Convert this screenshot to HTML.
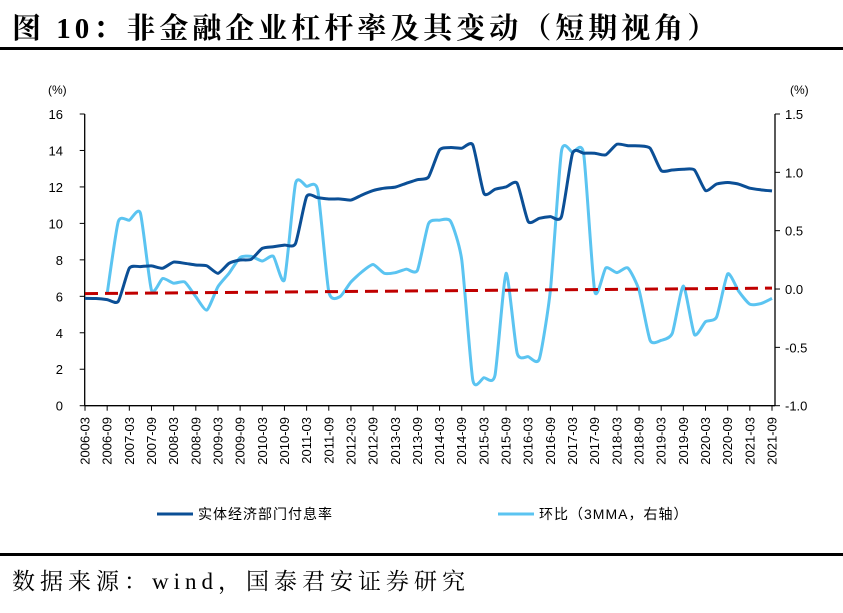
<!DOCTYPE html>
<html><head><meta charset="utf-8"><style>
body{margin:0;background:#fff;}
svg text{font-family:"Liberation Sans","Noto Sans CJK SC",sans-serif;}
</style></head><body>
<svg id="chart" width="843" height="608" xmlns="http://www.w3.org/2000/svg">
<text x="12" y="38" font-size="29" font-weight="bold" letter-spacing="4" style="font-family:'Liberation Serif','Noto Serif CJK SC',serif">图 10：非金融企业杠杆率及其变动（短期视角）</text>
<rect x="0" y="47" width="843" height="3" fill="#000"/>
<rect x="0" y="553" width="843" height="3" fill="#000"/>
<text x="12" y="589" font-size="23" letter-spacing="5" style="font-family:'Liberation Serif','Noto Serif CJK SC',serif">数据来源：wind，国泰君安证券研究</text>
<text x="48" y="94" font-size="12">(%)</text>
<text x="790" y="94" font-size="12">(%)</text>
<g id="axes"></g>
<g id="series"></g>
<g>
<line x1="157" y1="514" x2="193" y2="514" stroke="#0b4f96" stroke-width="3"/>
<text x="198" y="519" font-size="14" letter-spacing="1">实体经济部门付息率</text>
<line x1="498" y1="514" x2="534" y2="514" stroke="#5bc4f1" stroke-width="3"/>
<text x="539" y="519" font-size="14" letter-spacing="1">环比（3MMA，右轴）</text>
</g>
</svg>
<script>
const rateValues=[5.89,5.88,5.82,5.72,7.54,7.63,7.67,7.54,7.88,7.81,7.72,7.67,7.26,7.81,7.99,8.03,8.63,8.72,8.81,8.9,11.47,11.41,11.34,11.34,11.28,11.56,11.8,11.93,11.99,12.2,12.4,12.54,14.03,14.16,14.12,14.3,11.65,11.87,12.0,12.2,10.1,10.28,10.37,10.37,13.85,13.85,13.85,13.76,14.34,14.26,14.25,14.12,12.9,12.93,12.97,12.93,11.8,12.16,12.24,12.15,11.93,11.84,11.78];
const changeValues=[null,null,-0.04,0.577,0.59,0.65,-0.01,0.09,0.05,0.06,-0.066,-0.18,0.02,0.135,0.27,0.28,0.24,0.28,0.08,0.905,0.88,0.85,-0.023,-0.066,0.06,0.148,0.21,0.135,0.14,0.17,0.16,0.56,0.59,0.58,0.25,-0.78,-0.76,-0.74,0.135,-0.55,-0.58,-0.6,-0.01,1.18,1.17,1.16,-0.02,0.18,0.14,0.18,-0.01,-0.44,-0.44,-0.38,0.026,-0.39,-0.28,-0.24,0.13,-0.02,-0.13,-0.125,-0.08];
const trendValues=[6.15,6.45];
const leftTicks=[0,2,4,6,8,10,12,14,16];
const rightTicks=["1.5","1.0","0.5","0.0","-0.5","-1.0"];
const rightTickValues=[1.5,1,0.5,0,-0.5,-1];
const quarterLabels=[];
for(let y=2006;y<=2021;y++){quarterLabels.push(y+'-03');quarterLabels.push(y+'-09');}

const NS='http://www.w3.org/2000/svg';
const X0=85,X1=772,YT=114,YB=405.7;
const n=rateValues.length;
const xs=i=>X0+(X1-X0)*i/(n-1);
const yL=v=>YB-(v-0)/(16-0)*(YB-YT);
const yR=v=>YB-(v+1)/(2.5)*(YB-YT);
function mk(tag,attrs,parent){const e=document.createElementNS(NS,tag);for(const k in attrs)e.setAttribute(k,attrs[k]);parent.appendChild(e);return e;}
const ax=document.getElementById('axes'),se=document.getElementById('series');

let e=mk('line',{x1:84.7,y1:YT,x2:84.7,y2:YB,stroke:'#000','stroke-width':1.3},ax);


e=mk('line',{x1:775,y1:YT,x2:775,y2:YB,stroke:'#000','stroke-width':1.3},ax);


e=mk('line',{x1:84.7,y1:YB,x2:775,y2:YB,stroke:'#000','stroke-width':1.3},ax);



leftTicks.forEach(v=>{
  mk('line',{x1:79.7,y1:yL(v),x2:84.7,y2:yL(v),stroke:'#000'},ax);
  const t=mk('text',{x:63,y:yL(v)+5,'font-size':13,'text-anchor':'end'},ax);
  t.textContent=v;
  
  
});
rightTickValues.forEach((v,k)=>{
  mk('line',{x1:775,y1:yR(v),x2:780,y2:yR(v),stroke:'#000'},ax);
  const t=mk('text',{x:785,y:yR(v)+5,'font-size':13},ax);
  t.textContent=rightTicks[k];
  
  
});
quarterLabels.forEach((lab,k)=>{
  const x=xs(k*2);
  mk('line',{x1:x,y1:YB,x2:x,y2:YB+5,stroke:'#000'},ax);
  const t=mk('text',{x:0,y:0,'font-size':13,'text-anchor':'end',transform:`translate(${x+4.5},417) rotate(-90)`},ax);
  t.textContent=lab;
  
  
});

function smooth(pts){
  let d=`M${pts[0][0]},${pts[0][1]}`;
  for(let i=0;i<pts.length-1;i++){
    const p0=pts[Math.max(0,i-1)],p1=pts[i],p2=pts[i+1],p3=pts[Math.min(pts.length-1,i+2)];
    const t=0.1;
    d+=` C${p1[0]+(p2[0]-p0[0])*t},${p1[1]+(p2[1]-p0[1])*t} ${p2[0]-(p3[0]-p1[0])*t},${p2[1]-(p3[1]-p1[1])*t} ${p2[0]},${p2[1]}`;
  }
  return d;
}
const tr=mk('line',{x1:xs(0),y1:yL(trendValues[0]),x2:xs(n-1),y2:yL(trendValues[1]),stroke:'#c00000','stroke-width':3,'stroke-dasharray':'13,7'},se);


const cp=[];changeValues.forEach((v,i)=>{if(v!==null)cp.push([xs(i),yR(v)]);});
const l2=mk('path',{d:smooth(cp),fill:'none',stroke:'#5bc4f1','stroke-width':3,'stroke-linejoin':'round'},se);


const rp=rateValues.map((v,i)=>[xs(i),yL(v)]);
const l1=mk('path',{d:smooth(rp),fill:'none',stroke:'#0b4f96','stroke-width':3,'stroke-linejoin':'round'},se);


se.appendChild(tr);
</script>
</body></html>
